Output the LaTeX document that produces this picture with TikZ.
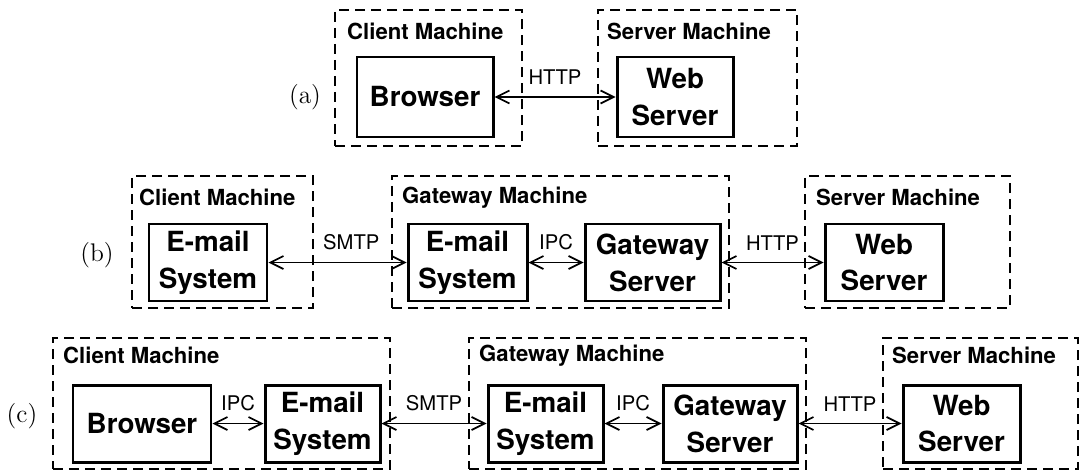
\documentclass[tikz,border=0pt]{standalone}
\usepackage{fontspec}
\newfontfamily\hvfont{TeX Gyre Heros}
\usetikzlibrary{arrows.meta}

\begin{document}
\begin{tikzpicture}[x=0.2mm, y=-0.2mm, node distance=40mm,
  machine/.style={rectangle, draw, dash pattern=on 2mm off 1.2mm, line width=1.3pt, minimum height=26.4mm},
  block/.style={rectangle, draw, line width=1.7pt, align=center, minimum height=15.4mm, font=\hvfont\bfseries\fontsize{15.8}{21}\selectfont},
  machname/.style={anchor=west, inner sep=0pt, font=\hvfont\bfseries\fontsize{12.6}{14}\selectfont},
  proto/.style={above=1.1mm, font=\hvfont\fontsize{11.5}{13}\selectfont},
  link/.style={{Straight Barb[length=2.6mm,width=2.6mm]}-{Straight Barb[length=2.6mm,width=2.6mm]}, line width=1pt},
  rowtag/.style={font=\fontsize{14.5}{16}\selectfont}]

  \useasboundingbox (0,0) rectangle (1080,474);

  % (a)
  \node[rowtag] (tagA) at (305,97) {(a)};
  \node[machine, minimum width=37.4mm, minimum height=27.2mm] (clA) at (428.5,78) {};
  \node[machine, minimum width=39.8mm, minimum height=27.2mm] (svA) at (697.5,78) {};
  \node[machname] (clAname) at ([xshift=2.6mm, yshift=-4.6mm]clA.north west) {Client Machine};
  \node[machname] (svAname) at ([xshift=2mm, yshift=-4.6mm]svA.north west) {Server Machine};

  \node[block, minimum width=27.2mm, minimum height=16mm] (brwA) at (425,97) {Browser};
  \node[block, minimum width=23.2mm, minimum height=16mm, right of=brwA, node distance=50mm] (websA) {Web\\Server};

  \draw[link] (brwA) -- node[proto] {HTTP} (websA);

  % (b)
  \node[rowtag] (tagB) at (97,255) {(b)};
  \node[machine, minimum width=36.2mm] (clB) at (222.5,242) {};
  \node[machine, minimum width=67.4mm] (gwmB) at (560.5,242) {};
  \node[machine, minimum width=41mm] (svB) at (907.5,242) {};
  \node[machname] (clBname) at ([xshift=1.6mm, yshift=-4.6mm]clB.north west) {Client Machine};
  \node[machname] (gwmBname) at ([xshift=2.2mm, yshift=-4.6mm]gwmB.north west) {Gateway Machine};
  \node[machname] (svBname) at ([xshift=2.4mm, yshift=-4.6mm]svB.north west) {Server Machine};

  \node[block, minimum width=23.6mm] (mailB1) at (208,262.5) {E-mail\\System};
  \node[block, minimum width=23.8mm, right of=mailB1, node distance=51.9mm] (mailB2) {E-mail\\System};
  \node[block, minimum width=27mm, right of=mailB2, node distance=37mm] (gwB) {Gateway\\Server};
  \node[block, minimum width=23.6mm, right of=gwB, node distance=46.3mm] (websB) {Web\\Server};

  \draw[link] (mailB1) -- node[proto, pos=0.6] {SMTP} (mailB2);
  \draw[link] (mailB2) -- node[proto] {IPC} (gwB);
  \draw[link] (gwB) -- node[proto] {HTTP} (websB);

  % (c)
  \node[rowtag] (tagC) at (22,416) {(c)};
  \node[machine, minimum width=67.4mm, minimum height=26.2mm] (clC) at (221.5,403.5) {};
  \node[machine, minimum width=67.4mm, minimum height=26.2mm] (gwmC) at (637.5,403.5) {};
  \node[machine, minimum width=39mm, minimum height=26.2mm] (svC) at (980.5,403.5) {};
  \node[machname] (clCname) at ([xshift=2.2mm, yshift=-3.8mm]clC.north west) {Client Machine};
  \node[machname] (gwmCname) at ([xshift=2.2mm, yshift=-3.8mm]gwmC.north west) {Gateway Machine};
  \node[machname] (svCname) at ([xshift=2mm, yshift=-3.8mm]svC.north west) {Server Machine};

  \node[block, minimum width=27.6mm] (brwC) at (142,423.5) {Browser};
  \node[block, minimum width=23mm, right of=brwC, node distance=36.1mm] (mailC1) {E-mail\\System};
  \node[block, minimum width=23mm, right of=mailC1, node distance=44.6mm] (mailC2) {E-mail\\System};
  \node[block, minimum width=26.8mm, right of=mailC2, node distance=36.9mm] (gwC) {Gateway\\Server};
  \node[block, minimum width=23.4mm, right of=gwC, node distance=46.3mm] (websC) {Web\\Server};

  \draw[link] (brwC) -- node[proto] {IPC} (mailC1);
  \draw[link] (mailC1) -- node[proto] {SMTP} (mailC2);
  \draw[link] (mailC2) -- node[proto] {IPC} (gwC);
  \draw[link] (gwC) -- node[proto] {HTTP} (websC);
\end{tikzpicture}
\end{document}
